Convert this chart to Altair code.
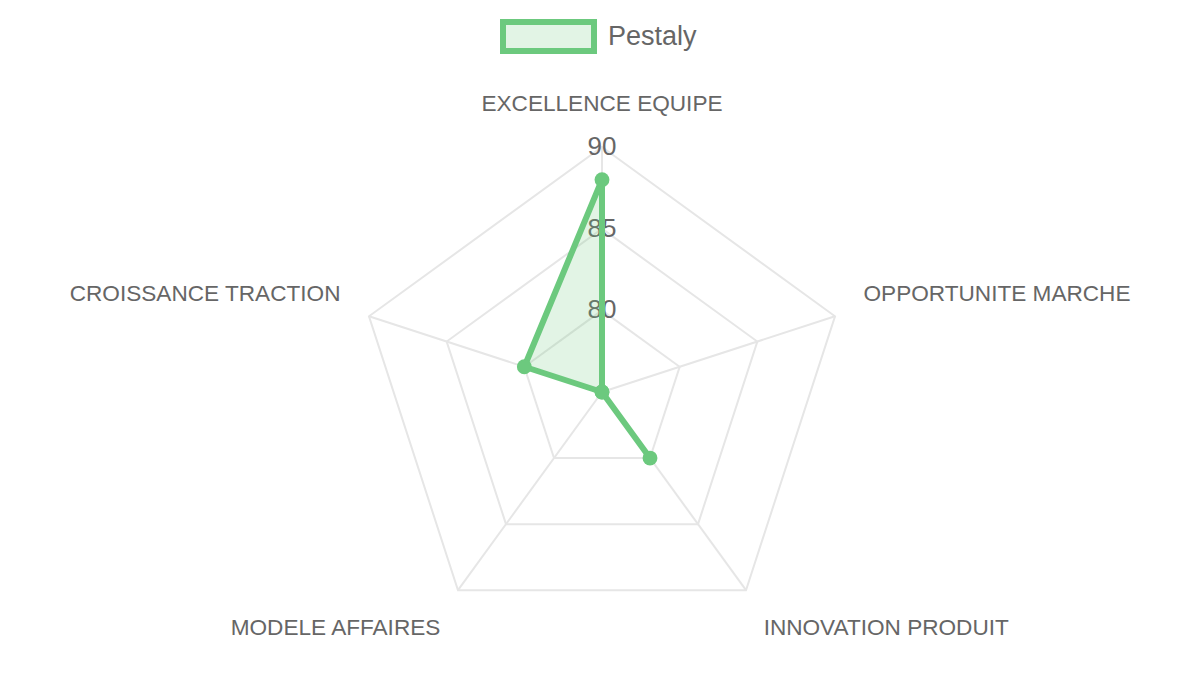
import altair as alt
import pandas as pd

# ---- data ----
categories = ["EXCELLENCE EQUIPE", "OPPORTUNITE MARCHE", "INNOVATION PRODUIT",
              "MODELE AFFAIRES", "CROISSANCE TRACTION"]
values = [88, 75, 80, 75, 80]
series_name = "Pestaly"
ticks = [80, 85, 90]
scale_min = 75
scale_max = 90

# ---- styling ----
GREEN = "#6cc97e"
FILL = "rgba(108,201,126,0.2)"
GRID = "#e6e6e6"
TXT = "#666666"
FONT = "Liberation Sans"

W, H = 1184, 659
CX, CY, R = 594, 384, 245
xs = alt.Scale(domain=[-CX / R, (W - CX) / R], nice=False, zero=False)
ys = alt.Scale(domain=[-(H - CY) / R, CY / R], nice=False, zero=False)

n = len(categories)
data = pd.DataFrame({"cat": categories, "idx": list(range(n)), "value": values,
                     "series": [series_name] * n})
grid = pd.DataFrame([{"tick": t, "idx": i} for t in ticks for i in range(n)])
spokes = pd.DataFrame({"idx": list(range(n)), "cat": categories, "value": [scale_max] * n})
tick_df = pd.DataFrame({"tick": ticks, "label": [str(t) for t in ticks]})

span = scale_max - scale_min
ANG = f"datum.idx * 2 * PI / {n}"


def polar(ch, field):
    return (ch.transform_calculate(ang=ANG)
              .transform_calculate(r=f"(datum.{field} - {scale_min}) / {span}")
              .transform_calculate(px="datum.r * sin(datum.ang)",
                                   py="datum.r * cos(datum.ang)",
                                   zero="0"))


X = alt.X("px:Q", scale=xs, axis=None)
Y = alt.Y("py:Q", scale=ys, axis=None)

grid_layer = polar(alt.Chart(grid), "tick").mark_line(
    interpolate="linear-closed", stroke=GRID, strokeWidth=2
).encode(x=X, y=Y, detail="tick:N", order="idx:Q")

spoke_layer = polar(alt.Chart(spokes), "value").mark_rule(
    stroke=GRID, strokeWidth=2
).encode(x=alt.X("zero:Q", scale=xs, axis=None), y=alt.Y("zero:Q", scale=ys, axis=None),
         x2="px:Q", y2="py:Q")

tick_layer = alt.Chart(tick_df).transform_calculate(
    r=f"(datum.tick - {scale_min}) / {span}", zero="0"
).mark_text(fontSize=26, color=TXT, font=FONT, align="center", baseline="middle").encode(
    x=alt.X("zero:Q", scale=xs, axis=None), y=alt.Y("r:Q", scale=ys, axis=None), text="label:N")

area_layer = polar(alt.Chart(data), "value").mark_line(
    interpolate="linear-closed", strokeWidth=6, fill=FILL, strokeJoin="round"
).encode(
    x=X, y=Y, order="idx:Q",
    color=alt.Color("series:N", scale=alt.Scale(range=[GREEN]), legend=alt.Legend(
        title=None, orient="none", legendX=492, legendY=-20, padding=0,
        symbolType="M-1,-0.3187L1,-0.3187L1,0.3187L-1,0.3187Z", symbolSize=8281,
        symbolStrokeWidth=6, symbolFillColor=FILL, symbolStrokeColor=GREEN,
        labelFontSize=27, labelColor=TXT, labelFont=FONT, labelOffset=11,
    )),
)

point_layer = polar(alt.Chart(data), "value").mark_circle(
    size=220, color=GREEN, opacity=1
).encode(x=X, y=Y)

# category labels (position from polar coordinates just outside the outer ring)
label_style = {
    0: ("center", "bottom", -1),
    1: ("left", "bottom", -1),
    2: ("left", "top", 3),
    3: ("right", "top", 3),
    4: ("right", "bottom", -1),
}
label_layers = []
for i, cat in enumerate(categories):
    al, bl, dy = label_style[i]
    lyr = alt.Chart(data).transform_filter(f"datum.idx == {i}").transform_calculate(
        ang=ANG).transform_calculate(
        lx="1.1224 * sin(datum.ang)", ly="1.1224 * cos(datum.ang)"
    ).mark_text(fontSize=22.6, color=TXT, font=FONT, align=al, baseline=bl, dy=dy).encode(
        x=alt.X("lx:Q", scale=xs, axis=None), y=alt.Y("ly:Q", scale=ys, axis=None),
        text="cat:N")
    label_layers.append(lyr)

chart = alt.layer(
    grid_layer, spoke_layer, tick_layer, area_layer, point_layer, *label_layers
).properties(
    width=W, height=H, padding=0, autosize="none", background="white"
).configure_view(stroke=None)

chart.save("out.html", embed_options={"renderer": "svg", "actions": False})
